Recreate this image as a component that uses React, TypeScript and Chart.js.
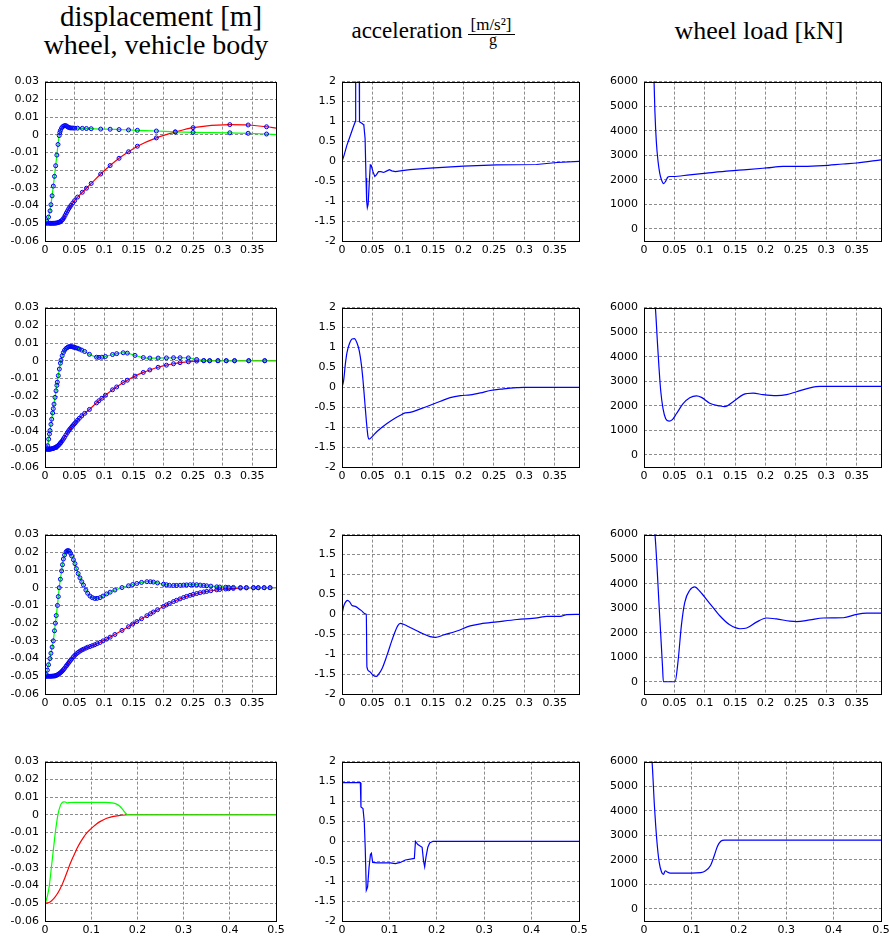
import React, { useEffect, useRef } from "react";
import { Chart, registerables } from "chart.js";

Chart.register(...registerables);

// ---------------- tick labels ----------------
const timeTicks = [0, 0.05, 0.1, 0.15, 0.2, 0.25, 0.3, 0.35];
const timeTicksLong = [0, 0.1, 0.2, 0.3, 0.4, 0.5];
const dispTicks = [-0.06, -0.05, -0.04, -0.03, -0.02, -0.01, 0, 0.01, 0.02, 0.03];
const accTicks = [-2, -1.5, -1, -0.5, 0, 0.5, 1, 1.5, 2];
const loadTicks = [0, 1000, 2000, 3000, 4000, 5000, 6000];

// ---------------- row 1 : displacement (solver steps, wheel / body) ----------------
const r1T = [0, 0.003, 0.006, 0.0085, 0.01, 0.012, 0.014, 0.016, 0.018, 0.02, 0.022, 0.024, 0.025, 0.026, 0.028, 0.03, 0.032, 0.034, 0.036, 0.038, 0.04, 0.042, 0.044, 0.047, 0.05, 0.055, 0.063, 0.07, 0.078, 0.094, 0.11, 0.125, 0.141, 0.156, 0.188, 0.22, 0.25, 0.312, 0.343, 0.374, 0.39];
const r1Wheel = [-0.05, -0.0488, -0.0465, -0.043, -0.0395, -0.0345, -0.029, -0.0235, -0.0175, -0.0115, -0.0055, -0.0005, 0.0012, 0.0024, 0.0038, 0.0046, 0.005, 0.0052, 0.005, 0.0045, 0.0041, 0.0039, 0.0038, 0.0038, 0.0037, 0.0037, 0.0036, 0.0035, 0.0034, 0.0032, 0.0031, 0.0029, 0.0027, 0.0025, 0.0021, 0.0016, 0.0013, 0.0011, 0.0008, 0.0004, 0.0001];
const r1Body = [-0.05, -0.05, -0.05, -0.05, -0.05, -0.05, -0.05, -0.05, -0.0499, -0.0498, -0.0496, -0.0494, -0.0492, -0.049, -0.0485, -0.0478, -0.0468, -0.0455, -0.0442, -0.043, -0.0418, -0.0408, -0.0398, -0.0385, -0.0372, -0.0352, -0.0325, -0.0302, -0.0275, -0.0222, -0.0174, -0.0133, -0.0096, -0.0065, -0.0018, 0.0015, 0.004, 0.0057, 0.0055, 0.0045, 0.0037];

// ---------------- row 2 : displacement ----------------
const r2T = [0, 0.0028, 0.0045, 0.0062, 0.0075, 0.0084, 0.01, 0.0113, 0.0129, 0.014, 0.0152, 0.0169, 0.0186, 0.02, 0.0208, 0.0225, 0.0242, 0.026, 0.027, 0.029, 0.031, 0.033, 0.0355, 0.038, 0.04, 0.042, 0.044, 0.046, 0.048, 0.05, 0.052, 0.055, 0.058, 0.062, 0.067, 0.075, 0.087, 0.091, 0.096, 0.102, 0.114, 0.121, 0.132, 0.139, 0.152, 0.166, 0.177, 0.191, 0.205, 0.217, 0.228, 0.242, 0.256, 0.268, 0.278, 0.292, 0.306, 0.32, 0.344, 0.371, 0.39];
const r2Wheel = [-0.05, -0.0492, -0.048, -0.0443, -0.0414, -0.0394, -0.0359, -0.033, -0.0295, -0.0271, -0.0245, -0.0207, -0.017, -0.0139, -0.0121, -0.0084, -0.0047, -0.0014, 0.0003, 0.0028, 0.0046, 0.0059, 0.0069, 0.0075, 0.0079, 0.008, 0.008, 0.0079, 0.0077, 0.0075, 0.0073, 0.007, 0.0066, 0.006, 0.0052, 0.0036, 0.002, 0.0019, 0.002, 0.0024, 0.0035, 0.004, 0.0045, 0.0043, 0.003, 0.0018, 0.0015, 0.0015, 0.0016, 0.0017, 0.0017, 0.0016, 0.0007, 0.0001, 0, 0, 0, 0, 0, 0, 0];
const r2Body = [-0.05, -0.05, -0.05, -0.05, -0.05, -0.0499, -0.0498, -0.0497, -0.0496, -0.0495, -0.0493, -0.0491, -0.0488, -0.0485, -0.0483, -0.0478, -0.0472, -0.0465, -0.0461, -0.0452, -0.0442, -0.0432, -0.0418, -0.0405, -0.0395, -0.0386, -0.0378, -0.037, -0.0362, -0.0355, -0.0347, -0.0336, -0.0325, -0.0312, -0.0297, -0.0275, -0.0238, -0.0226, -0.0212, -0.0195, -0.0164, -0.0148, -0.0123, -0.011, -0.0087, -0.0066, -0.0052, -0.0037, -0.0025, -0.0017, -0.0011, -0.0006, -0.0002, 0, 0, 0, 0, 0, 0, 0, 0];

// ---------------- row 3 : displacement ----------------
const r3T = [0, 0.002, 0.004, 0.006, 0.0084, 0.01, 0.012, 0.014, 0.016, 0.0175, 0.019, 0.021, 0.0225, 0.024, 0.026, 0.028, 0.0295, 0.031, 0.033, 0.0355, 0.037, 0.039, 0.041, 0.043, 0.045, 0.048, 0.0506, 0.053, 0.056, 0.059, 0.062, 0.065, 0.069, 0.072, 0.076, 0.08, 0.084, 0.088, 0.093, 0.098, 0.104, 0.11, 0.118, 0.13, 0.141, 0.148, 0.155, 0.163, 0.172, 0.178, 0.183, 0.19, 0.2, 0.205, 0.21, 0.217, 0.222, 0.228, 0.234, 0.239, 0.245, 0.25, 0.256, 0.262, 0.268, 0.273, 0.28, 0.29, 0.295, 0.305, 0.31, 0.318, 0.33, 0.34, 0.352, 0.36, 0.37, 0.38, 0.39];
const r3Wheel = [-0.05, -0.049, -0.0465, -0.0435, -0.04, -0.037, -0.0335, -0.03, -0.0243, -0.02, -0.0157, -0.01, -0.005, 0, 0.0048, 0.0095, 0.013, 0.0162, 0.0185, 0.0202, 0.0208, 0.021, 0.0207, 0.0195, 0.018, 0.0158, 0.0136, 0.0108, 0.008, 0.0056, 0.0034, 0.0015, -0.0013, -0.0031, -0.0047, -0.0056, -0.0061, -0.006, -0.0056, -0.0047, -0.0035, -0.0025, -0.0013, 0.0001, 0.0011, 0.0018, 0.0024, 0.003, 0.0034, 0.0034, 0.0032, 0.0027, 0.002, 0.0017, 0.0014, 0.0013, 0.0013, 0.0014, 0.0015, 0.0016, 0.0017, 0.0017, 0.0017, 0.0015, 0.0013, 0.0011, 0.0009, 0.0005, 0.0004, 0.0003, 0.0002, 0.0002, 0.0001, 0.0001, 0, 0, 0, 0, 0];
const r3Body = [-0.05, -0.05, -0.05, -0.05, -0.05, -0.05, -0.0499, -0.0499, -0.0498, -0.0497, -0.0495, -0.0492, -0.0489, -0.0485, -0.048, -0.0474, -0.0469, -0.0463, -0.0455, -0.0444, -0.0437, -0.0428, -0.0419, -0.041, -0.0402, -0.039, -0.0381, -0.0373, -0.0365, -0.0358, -0.0352, -0.0347, -0.0341, -0.0336, -0.0332, -0.0327, -0.0322, -0.0316, -0.0309, -0.03, -0.029, -0.0279, -0.0264, -0.0241, -0.022, -0.0205, -0.0191, -0.0175, -0.0158, -0.0147, -0.0137, -0.0124, -0.0106, -0.0097, -0.0089, -0.0078, -0.0071, -0.0063, -0.0055, -0.0049, -0.0043, -0.0038, -0.0033, -0.0028, -0.0024, -0.0021, -0.0017, -0.0012, -0.001, -0.0007, -0.0006, -0.0004, -0.0002, -0.0001, 0, 0, 0, 0, 0];

// ---------------- row 4 : displacement (no markers) ----------------
const r4WheelT = [0, 0.003, 0.006, 0.0094, 0.0137, 0.018, 0.0224, 0.028, 0.033, 0.037, 0.041, 0.044, 0.048, 0.054, 0.065, 0.1, 0.13, 0.145, 0.155, 0.162, 0.168, 0.174, 0.18, 0.5];
const r4Wheel = [-0.05, -0.048, -0.045, -0.04, -0.03, -0.02, -0.01, 0, 0.005, 0.0068, 0.0073, 0.0072, 0.0067, 0.0069, 0.007, 0.007, 0.007, 0.0067, 0.006, 0.0048, 0.003, 0.001, 0, 0];
const r4BodyT = [0, 0.005, 0.0108, 0.0162, 0.0216, 0.027, 0.0325, 0.038, 0.0433, 0.049, 0.054, 0.06, 0.065, 0.07, 0.0758, 0.083, 0.09, 0.0975, 0.1046, 0.112, 0.119, 0.1335, 0.148, 0.162, 0.18, 0.5];
const r4Body = [-0.05, -0.0498, -0.0493, -0.0481, -0.0465, -0.0445, -0.0419, -0.0389, -0.0354, -0.0315, -0.028, -0.0243, -0.0215, -0.0187, -0.0159, -0.0129, -0.0104, -0.0084, -0.0067, -0.0051, -0.0039, -0.002, -0.0009, -0.0004, 0, 0];

// ---------------- acceleration [ (m/s^2) / g ] ----------------
const acc1T = [0, 0.003, 0.008, 0.014, 0.019, 0.022, 0.0225, 0.0283, 0.0288, 0.03, 0.032, 0.0346, 0.036, 0.038, 0.0395, 0.0406, 0.0417, 0.043, 0.045, 0.0466, 0.048, 0.051, 0.054, 0.0565, 0.06, 0.064, 0.0686, 0.074, 0.078, 0.082, 0.088, 0.096, 0.112, 0.145, 0.2, 0.255, 0.32, 0.354, 0.39];
const acc1 = [0, 0.13, 0.4, 0.66, 0.88, 1.0, 2.6, 2.6, 0.99, 0.98, 0.96, 0.93, 0.9, 0.57, -0.42, -1.0, -1.16, -1.08, -0.5, -0.09, -0.1, -0.26, -0.38, -0.34, -0.26, -0.26, -0.28, -0.24, -0.21, -0.24, -0.26, -0.24, -0.21, -0.17, -0.12, -0.09, -0.08, -0.03, 0];
const acc2T = [0, 0.0027, 0.0055, 0.0082, 0.0126, 0.0165, 0.0203, 0.0247, 0.0285, 0.0318, 0.0346, 0.0373, 0.04, 0.0428, 0.0444, 0.05, 0.0576, 0.074, 0.0878, 0.096, 0.104, 0.112, 0.129, 0.145, 0.162, 0.178, 0.195, 0.211, 0.228, 0.244, 0.266, 0.288, 0.299, 0.39];
const acc2 = [0, 0.17, 0.58, 0.87, 1.11, 1.21, 1.22, 1.11, 0.91, 0.58, 0.17, -0.33, -0.83, -1.24, -1.3, -1.23, -1.11, -0.91, -0.77, -0.7, -0.64, -0.63, -0.54, -0.45, -0.35, -0.26, -0.21, -0.19, -0.14, -0.08, -0.04, -0.01, 0, 0];
const acc3T = [0, 0.0027, 0.0055, 0.0093, 0.0126, 0.0165, 0.022, 0.0274, 0.0329, 0.0384, 0.04, 0.041, 0.045, 0.051, 0.0565, 0.06, 0.066, 0.074, 0.082, 0.0878, 0.0916, 0.096, 0.101, 0.112, 0.129, 0.145, 0.154, 0.167, 0.189, 0.211, 0.228, 0.255, 0.288, 0.321, 0.337, 0.359, 0.37, 0.39];
const acc3 = [0, 0.2, 0.3, 0.35, 0.31, 0.22, 0.2, 0.14, 0.08, 0.01, 0, -1.32, -1.43, -1.53, -1.56, -1.51, -1.36, -1.03, -0.66, -0.42, -0.29, -0.23, -0.25, -0.33, -0.46, -0.56, -0.58, -0.52, -0.42, -0.29, -0.24, -0.19, -0.13, -0.09, -0.05, -0.05, -0.01, 0];
const acc4T = [0, 0.001, 0.004, 0.0387, 0.04, 0.0443, 0.047, 0.049, 0.0513, 0.054, 0.057, 0.06, 0.062, 0.0647, 0.074, 0.102, 0.1125, 0.123, 0.1336, 0.1526, 0.155, 0.16, 0.169, 0.172, 0.1744, 0.177, 0.181, 0.185, 0.192, 0.5];
const acc4 = [0, 1.48, 1.47, 1.47, 0.86, 0.82, 0.49, -0.16, -1.23, -1.15, -0.66, -0.33, -0.3, -0.53, -0.54, -0.54, -0.56, -0.53, -0.47, -0.43, 0, -0.08, -0.15, -0.49, -0.64, -0.41, -0.15, -0.04, 0, 0];

// ---------------- wheel load [kN] ----------------
const load1T = [0, 0.0165, 0.018, 0.0203, 0.0231, 0.0258, 0.0286, 0.0324, 0.0357, 0.039, 0.0423, 0.0478, 0.075, 0.103, 0.141, 0.169, 0.202, 0.229, 0.262, 0.295, 0.328, 0.35, 0.39];
const load1 = [9000, 6000, 4750, 3550, 2750, 2280, 2010, 1840, 1940, 2100, 2130, 2130, 2200, 2270, 2360, 2410, 2480, 2540, 2540, 2570, 2640, 2680, 2810];
const load2T = [0, 0.0187, 0.022, 0.0247, 0.0275, 0.0313, 0.0357, 0.0412, 0.0467, 0.0533, 0.0643, 0.0753, 0.0863, 0.0945, 0.1082, 0.1247, 0.133, 0.1467, 0.1632, 0.1797, 0.196, 0.218, 0.2346, 0.251, 0.273, 0.29, 0.39];
const load2 = [9000, 6000, 4620, 3550, 2610, 1880, 1470, 1370, 1430, 1670, 2080, 2320, 2400, 2340, 2100, 1990, 1960, 2160, 2450, 2510, 2450, 2410, 2450, 2570, 2730, 2790, 2790];
const load3T = [0, 0.0181, 0.025, 0.0305, 0.0319, 0.0511, 0.056, 0.0615, 0.067, 0.0753, 0.0835, 0.0918, 0.108, 0.1247, 0.141, 0.158, 0.169, 0.185, 0.2016, 0.218, 0.24, 0.251, 0.273, 0.295, 0.328, 0.35, 0.3665, 0.39];
const load3 = [9000, 6000, 3040, 600, 0, 0, 830, 2290, 3230, 3730, 3870, 3690, 3200, 2690, 2320, 2160, 2190, 2430, 2600, 2560, 2470, 2450, 2520, 2600, 2610, 2750, 2800, 2800];
const load4T = [0, 0.017, 0.022, 0.027, 0.032, 0.037, 0.041, 0.045, 0.049, 0.055, 0.1, 0.12, 0.13, 0.14, 0.148, 0.155, 0.162, 0.17, 0.5];
const load4 = [9000, 6000, 4200, 2800, 1900, 1500, 1400, 1550, 1500, 1450, 1450, 1470, 1550, 1750, 2150, 2550, 2750, 2800, 2800];

// ---------------- styling / layout ----------------
const GREEN = "#00ff00";
const RED = "#ff0000";
const BLUE = "#0000ff";
const GRID = "#8c8c8c";
const YW = 45;
const PT = 10;
const PR = 14;
const XH = 24;
const PH = 162;
const colLeft = [45, 342, 644];
const colW = [231, 237, 237];
const rowTop = [79, 305, 532, 759];

const fmt = (v: any) => String(Number(Number(v).toFixed(3)));
const pts = (t: number[], v: number[]) => t.map((x, i) => ({ x, y: v[i] }));

const boxPlugin = {
  id: "box",
  afterDatasetsDraw(chart: any) {
    const { ctx, chartArea } = chart;
    const { left, top, right, bottom } = chartArea;
    ctx.save();
    ctx.strokeStyle = "#000";
    ctx.lineWidth = 1;
    ctx.setLineDash([]);
    ctx.strokeRect(Math.round(left) + 0.5, Math.round(top) + 0.5, Math.round(right - left), Math.round(bottom - top));
    ctx.restore();
  },
};

function axis(min: number, max: number, ticks: number[], isX: boolean) {
  return {
    type: "linear",
    min,
    max,
    afterBuildTicks: (s: any) => {
      s.ticks = ticks.map((value) => ({ value }));
    },
    afterFit: (s: any) => {
      if (isX) s.height = XH;
      else s.width = YW;
    },
    grid: { display: true, color: GRID, lineWidth: 1, drawTicks: false, drawOnChartArea: true },
    border: { display: false, dash: [3, 2] },
    ticks: {
      color: "#000",
      font: { family: "DejaVu Sans", size: 11 },
      padding: isX ? 3 : 6,
      autoSkip: false,
      maxRotation: 0,
      minRotation: 0,
      callback: (v: any) => fmt(v),
    },
  };
}

function series(t: number[], v: number[], color: string, markers: boolean, smooth: boolean) {
  const last = t.length - 1;
  return {
    data: pts(t, v),
    borderColor: color,
    borderWidth: 1.2,
    fill: false,
    tension: 0,
    cubicInterpolationMode: smooth ? "monotone" : "default",
    pointRadius: markers ? (c: any) => (c.dataIndex === last ? 0 : 2) : 0,
    pointBorderWidth: 1,
    pointBorderColor: BLUE,
    pointBackgroundColor: "rgba(0,0,255,0.15)",
  };
}

function makeConfig(datasets: any[], xMax: number, xTicks: number[], yMin: number, yMax: number, yTicks: number[]) {
  return {
    type: "line",
    data: { datasets },
    options: {
      animation: false,
      responsive: false,
      maintainAspectRatio: false,
      events: [],
      layout: { padding: { top: PT, right: PR, left: 0, bottom: 0 } },
      plugins: { legend: { display: false }, tooltip: { enabled: false } },
      scales: {
        x: axis(0, xMax, xTicks, true),
        y: axis(yMin, yMax, yTicks, false),
      },
    },
    plugins: [boxPlugin],
  };
}

function Panel({ row, col, config }: { row: number; col: number; config: any }) {
  const ref = useRef<HTMLCanvasElement>(null);
  const width = YW + colW[col] + PR;
  const height = PT + PH + XH;
  useEffect(() => {
    const chart = new Chart(ref.current as HTMLCanvasElement, config);
    return () => chart.destroy();
  }, []);
  return (
    <canvas
      ref={ref}
      width={width}
      height={height}
      style={{ position: "absolute", left: colLeft[col] - YW, top: rowTop[row] - PT, width, height }}
    />
  );
}

const serif = "'Liberation Serif', 'DejaVu Serif', serif";

function Title({ text, cx, baseline, size }: { text: any; cx: number; baseline: number; size: number }) {
  return (
    <div
      style={{
        position: "absolute",
        left: cx - 200,
        width: 400,
        top: baseline - 0.8375 * size,
        textAlign: "center",
        fontFamily: serif,
        fontSize: size,
        lineHeight: `${size}px`,
        whiteSpace: "nowrap",
        color: "#000",
      }}
    >
      {text}
    </div>
  );
}

export default function App() {
  const dispRows = [
    [series(r1T, r1Wheel, GREEN, true, true), series(r1T, r1Body, RED, true, true)],
    [series(r2T, r2Wheel, GREEN, true, true), series(r2T, r2Body, RED, true, true)],
    [series(r3T, r3Wheel, GREEN, true, true), series(r3T, r3Body, RED, true, true)],
    [series(r4WheelT, r4Wheel, GREEN, false, true), series(r4BodyT, r4Body, RED, false, true)],
  ];
  const accRows = [
    [series(acc1T, acc1, BLUE, false, false)],
    [series(acc2T, acc2, BLUE, false, true)],
    [series(acc3T, acc3, BLUE, false, true)],
    [series(acc4T, acc4, BLUE, false, false)],
  ];
  const loadRows = [
    [series(load1T, load1, BLUE, false, true)],
    [series(load2T, load2, BLUE, false, true)],
    [series(load3T, load3, BLUE, false, true)],
    [series(load4T, load4, BLUE, false, true)],
  ];

  const panels: any[] = [];
  for (let r = 0; r < 4; r++) {
    const xMax = r === 3 ? 0.5 : 0.39;
    const xt = r === 3 ? timeTicksLong : timeTicks;
    panels.push({ row: r, col: 0, config: makeConfig(dispRows[r], xMax, xt, -0.06, 0.03, dispTicks) });
    panels.push({ row: r, col: 1, config: makeConfig(accRows[r], xMax, xt, -2, 2, accTicks) });
    panels.push({ row: r, col: 2, config: makeConfig(loadRows[r], xMax, xt, -500, 6000, loadTicks) });
  }

  return (
    <div style={{ position: "absolute", left: 0, top: 0, width: 889, height: 938, overflow: "hidden", background: "#fff" }}>
      <Title text="displacement [m]" cx={161} baseline={26} size={29} />
      <Title text="wheel, vehicle body" cx={156} baseline={54} size={28} />
      <Title text="acceleration" cx={407} baseline={38} size={23} />
      <Title text="[m/s²]" cx={491} baseline={30} size={17} />
      <div style={{ position: "absolute", left: 468, top: 34, width: 47, height: 1, background: "#000" }} />
      <Title text="g" cx={493} baseline={45} size={16} />
      <Title text="wheel load [kN]" cx={759} baseline={40} size={26} />
      {panels.map((p) => (
        <Panel key={`${p.row}-${p.col}`} row={p.row} col={p.col} config={p.config} />
      ))}
    </div>
  );
}
